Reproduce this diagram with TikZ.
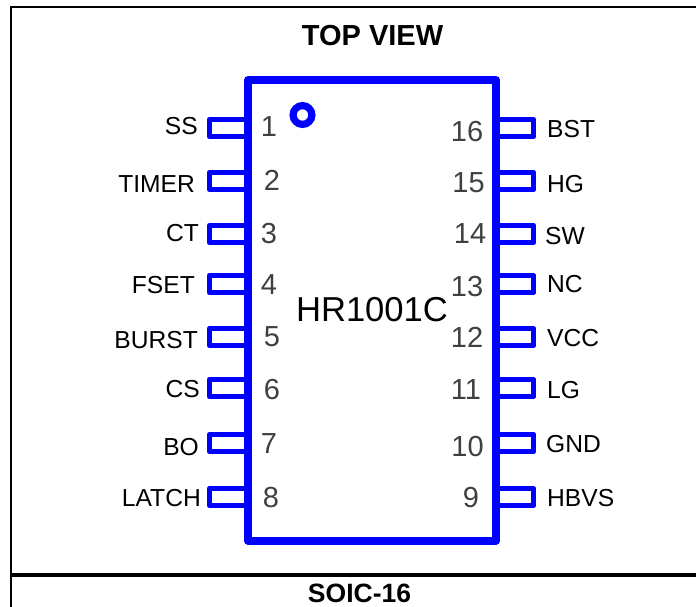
\documentclass[tikz,border=0pt]{standalone}
\usepackage{fontspec}
\setmainfont{Liberation Sans}
\definecolor{pinblue}{RGB}{0,0,255}
\definecolor{numgray}{RGB}{64,64,64}
\tikzset{
	pinbox/.style={shape=rectangle,draw=pinblue,line width=5.4pt,line join=round,inner sep=0pt,minimum width=38pt,minimum height=17pt},
	pinleft/.style={anchor=base east,inner sep=0pt,font=\fontsize{24.6}{25}\selectfont},
	pinright/.style={anchor=base west,inner sep=0pt,font=\fontsize{24.6}{25}\selectfont},
	pinnum/.style={anchor=base,inner sep=0pt,text=numgray,font=\fontsize{29}{29}\selectfont},
	framerule/.style={draw=black,line width=2.3pt}
}
\begin{document}
\begin{tikzpicture}[x=1pt,y=-1pt]
	\useasboundingbox (0,0) rectangle (696,607);
	
	\coordinate (TL) at (11,7);
	\coordinate (TR) at (696,7);
	\coordinate (BL) at (11,607);
	\coordinate (ML) at (11,575);
	\coordinate (MR) at (696,575);
	\path [framerule] (TR) -- (TL) -- (BL);
	\path [framerule,line width=4pt] (ML) -- (MR);
	
	\node[pinbox] (P1) at (228.5,128) {};
	\node[pinbox] (P2) at (228.5,181) {};
	\node[pinbox] (P3) at (228.5,234) {};
	\node[pinbox] (P4) at (228.5,284) {};
	\node[pinbox] (P5) at (228.5,337) {};
	\node[pinbox] (P6) at (228.5,388) {};
	\node[pinbox] (P7) at (228.5,443) {};
	\node[pinbox] (P8) at (228.5,497) {};
	\node[pinbox] (P16) at (514.5,128) {};
	\node[pinbox] (P15) at (514.5,181) {};
	\node[pinbox] (P14) at (514.5,234) {};
	\node[pinbox] (P13) at (514.5,284) {};
	\node[pinbox] (P12) at (514.5,337) {};
	\node[pinbox] (P11) at (514.5,388) {};
	\node[pinbox] (P10) at (514.5,443) {};
	\node[pinbox] (P9) at (514.5,497) {};
	
	\node[shape=rectangle,draw=pinblue,line width=7.5pt,line join=round,inner sep=0pt,minimum width=248pt,minimum height=461pt] (chip) at (372,310.5) {};
	\node[shape=circle,draw=pinblue,line width=7.2pt,inner sep=0pt,minimum size=18.8pt] (dot) at (302.5,115) {};
	
	\node[anchor=base,inner sep=0pt,font=\bfseries\fontsize{29}{29}\selectfont] (top) at (372.5,46) {TOP VIEW};
	\node[anchor=base,inner sep=0pt,font=\fontsize{34.6}{35}\selectfont] (part) at (372,321) {HR1001C};
	\node[anchor=base,inner sep=0pt,font=\bfseries\fontsize{26.5}{27}\selectfont] (pkg) at (359.5,602) {SOIC-16};
	
	\node[pinleft] (SS) at (198,135) {SS};
	\node[pinleft] (TIMER) at (195,193) {TIMER};
	\node[pinleft] (CT) at (199,241) {CT};
	\node[pinleft] (FSET) at (195,293) {FSET};
	\node[pinleft] (BURST) at (198,348) {BURST};
	\node[pinleft] (CS) at (200,397) {CS};
	\node[pinleft] (BO) at (199,455) {BO};
	\node[pinleft] (LATCH) at (201,506) {LATCH};
	
	\node[pinright] (BST) at (547,138) {BST};
	\node[pinright] (HG) at (547,192) {HG};
	\node[pinright] (SW) at (545,244) {SW};
	\node[pinright] (NC) at (547,292) {NC};
	\node[pinright] (VCC) at (547,346) {VCC};
	\node[pinright] (LG) at (547,398) {LG};
	\node[pinright] (GND) at (546,452) {GND};
	\node[pinright] (HBVS) at (547,506) {HBVS};
	
	\node[pinnum] (N1) at (269,136) {1};
	\node[pinnum] (N2) at (272,190) {2};
	\node[pinnum] (N3) at (269,243) {3};
	\node[pinnum] (N4) at (269,294) {4};
	\node[pinnum] (N5) at (272,346) {5};
	\node[pinnum] (N6) at (272,399) {6};
	\node[pinnum] (N7) at (269,453) {7};
	\node[pinnum] (N8) at (271,507) {8};
	\node[pinnum] (N16) at (467,142) {16};
	\node[pinnum] (N15) at (468.5,192) {15};
	\node[pinnum] (N14) at (470,243) {14};
	\node[pinnum] (N13) at (467,296) {13};
	\node[pinnum] (N12) at (467,347) {12};
	\node[pinnum] (N11) at (466,399) {11};
	\node[pinnum] (N10) at (467.5,456) {10};
	\node[pinnum] (N9) at (471,507) {9};
\end{tikzpicture}
\end{document}
